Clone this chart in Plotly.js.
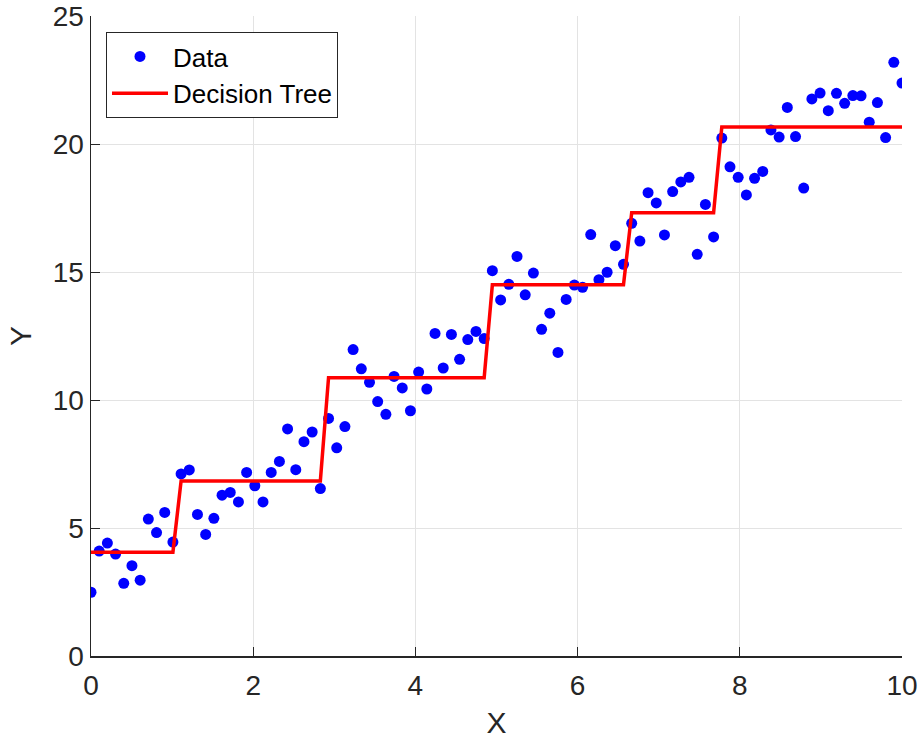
<!DOCTYPE html>
<html>
<head>
<meta charset="utf-8">
<script src="https://cdn.plot.ly/plotly-3.0.1.min.js"></script>
<style>
  html, body { margin: 0; padding: 0; background: #ffffff; }
  #chart { width: 922px; height: 742px; }
</style>
</head>
<body>
<div id="chart"></div>
<script>
// X sample positions (100 evenly spaced samples from 0 to 10)
const xData = [
  0.000, 0.101, 0.202, 0.303, 0.404, 0.505, 0.606, 0.707, 0.808, 0.909,
  1.010, 1.111, 1.212, 1.313, 1.414, 1.515, 1.616, 1.717, 1.818, 1.919,
  2.020, 2.121, 2.222, 2.323, 2.424, 2.525, 2.626, 2.727, 2.828, 2.929,
  3.030, 3.131, 3.232, 3.333, 3.434, 3.535, 3.636, 3.737, 3.838, 3.939,
  4.040, 4.141, 4.242, 4.343, 4.444, 4.545, 4.646, 4.747, 4.848, 4.949,
  5.051, 5.152, 5.253, 5.354, 5.455, 5.556, 5.657, 5.758, 5.859, 5.960,
  6.061, 6.162, 6.263, 6.364, 6.465, 6.566, 6.667, 6.768, 6.869, 6.970,
  7.071, 7.172, 7.273, 7.374, 7.475, 7.576, 7.677, 7.778, 7.879, 7.980,
  8.081, 8.182, 8.283, 8.384, 8.485, 8.586, 8.687, 8.788, 8.889, 8.990,
  9.091, 9.192, 9.293, 9.394, 9.495, 9.596, 9.697, 9.798, 9.899, 10.000
];

const yData = [
  2.49, 4.10, 4.41, 3.98, 2.84, 3.53, 2.96, 5.35, 4.82, 5.61,
  4.45, 7.11, 7.27, 5.53, 4.75, 5.38, 6.28, 6.39, 6.02, 7.17,
  6.65, 6.02, 7.17, 7.60, 8.87, 7.28, 8.37, 8.75, 6.54, 9.28,
  8.13, 8.96, 11.97, 11.22, 10.69, 9.94, 9.44, 10.92, 10.47, 9.58,
  11.09, 10.43, 12.60, 11.25, 12.56, 11.59, 12.36, 12.68, 12.40, 15.05,
  13.91, 14.52, 15.61, 14.11, 14.96, 12.76, 13.39, 11.86, 13.93, 14.49,
  14.40, 16.46, 14.70, 14.99, 16.03, 15.30, 16.90, 16.21, 18.10, 17.70,
  16.45, 18.14, 18.52, 18.70, 15.69, 17.64, 16.37, 20.23, 19.11, 18.70,
  18.01, 18.66, 18.93, 20.55, 20.27, 21.43, 20.29, 18.28, 21.76, 21.99,
  21.30, 21.98, 21.59, 21.89, 21.88, 20.85, 21.62, 20.25, 23.19, 22.38
];

// Decision tree predictions at each X
const yTree = [
  4.05, 4.05, 4.05, 4.05, 4.05, 4.05, 4.05, 4.05, 4.05, 4.05,
  4.05, 6.84, 6.84, 6.84, 6.84, 6.84, 6.84, 6.84, 6.84, 6.84,
  6.84, 6.84, 6.84, 6.84, 6.84, 6.84, 6.84, 6.84, 6.84, 10.87,
  10.87, 10.87, 10.87, 10.87, 10.87, 10.87, 10.87, 10.87, 10.87, 10.87,
  10.87, 10.87, 10.87, 10.87, 10.87, 10.87, 10.87, 10.87, 10.87, 14.50,
  14.50, 14.50, 14.50, 14.50, 14.50, 14.50, 14.50, 14.50, 14.50, 14.50,
  14.50, 14.50, 14.50, 14.50, 14.50, 14.50, 17.31, 17.31, 17.31, 17.31,
  17.31, 17.31, 17.31, 17.31, 17.31, 17.31, 17.31, 20.66, 20.66, 20.66,
  20.66, 20.66, 20.66, 20.66, 20.66, 20.66, 20.66, 20.66, 20.66, 20.66,
  20.66, 20.66, 20.66, 20.66, 20.66, 20.66, 20.66, 20.66, 20.66, 20.66
];

const xTicks = [0, 2, 4, 6, 8, 10];
const yTicks = [0, 5, 10, 15, 20, 25];

const axisColor = '#262626';
const gridColor = '#e3e3e3';
const fontFamily = 'Liberation Sans, Arial, Helvetica, sans-serif';

const traces = [
  {
    x: xData, y: yData, type: 'scatter', mode: 'markers', name: 'Data',
    marker: { color: '#0000ff', size: 11 }
  },
  {
    x: xData, y: yTree, type: 'scatter', mode: 'lines', name: 'Decision Tree',
    line: { color: '#ff0000', width: 3.5 }
  }
];

const layout = {
  width: 922, height: 742,
  margin: { l: 91, r: 20, t: 16, b: 86 },
  paper_bgcolor: '#ffffff', plot_bgcolor: '#ffffff',
  font: { family: fontFamily, color: axisColor },
  showlegend: true,
  legend: {
    x: 0.0185, y: 0.975, xanchor: 'left', yanchor: 'top',
    bgcolor: '#ffffff', bordercolor: axisColor, borderwidth: 1,
    font: { size: 26, color: '#000000', family: fontFamily },
    itemwidth: 56,
    tracegroupgap: 0
  },
  xaxis: {
    range: [0, 10], tickmode: 'array', tickvals: xTicks, ticktext: xTicks.map(String),
    showgrid: true, gridcolor: gridColor, gridwidth: 1, zeroline: false,
    showline: true, linecolor: axisColor, linewidth: 1.5,
    ticks: 'inside', ticklen: 9, tickcolor: axisColor, tickwidth: 1,
    ticklabelstandoff: 4,
    tickfont: { size: 28, color: axisColor },
    title: { text: 'X', font: { size: 30, color: axisColor }, standoff: 12 },
    automargin: false, fixedrange: true
  },
  yaxis: {
    range: [0, 25], tickmode: 'array', tickvals: yTicks, ticktext: yTicks.map(String),
    showgrid: true, gridcolor: gridColor, gridwidth: 1, zeroline: false,
    showline: true, linecolor: axisColor, linewidth: 1.5,
    ticks: 'inside', ticklen: 9, tickcolor: axisColor, tickwidth: 1,
    tickfont: { size: 28, color: axisColor },
    title: { text: 'Y', font: { size: 30, color: axisColor }, standoff: 12 },
    automargin: false, fixedrange: true
  }
};

Plotly.newPlot('chart', traces, layout, { displayModeBar: false, staticPlot: true });
</script>
</body>
</html>
